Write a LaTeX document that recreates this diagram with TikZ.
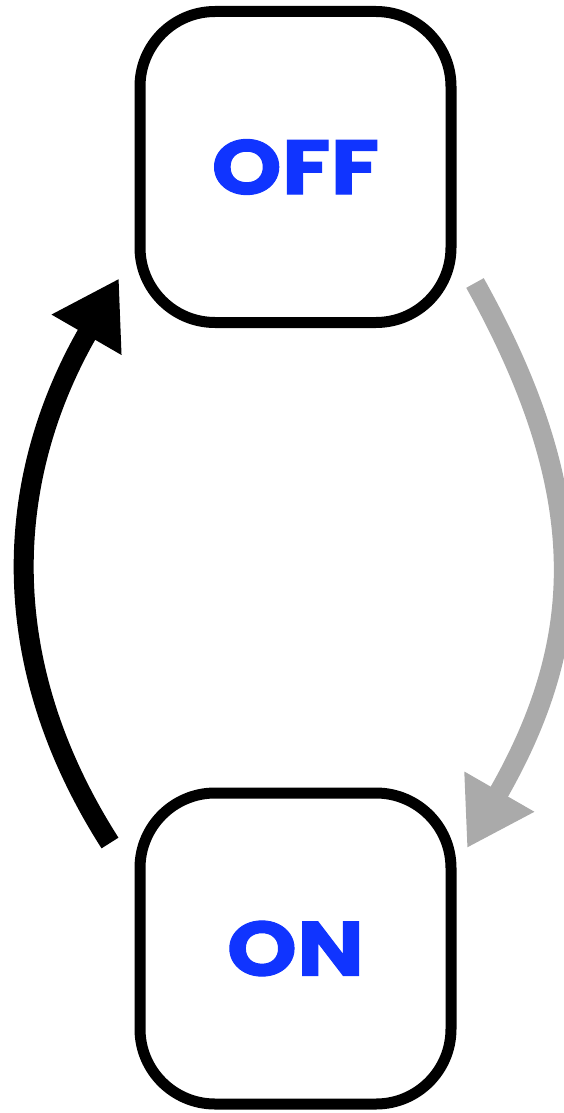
\documentclass[tikz,border=0pt]{standalone}
\usepackage{fontspec}
\setmainfont{Poppins}
\newfontfamily\statefont{Poppins}[FakeStretch=1.16, BoldFeatures={FakeBold=1.3}]
\usetikzlibrary{arrows.meta}

\definecolor{stateblue}{RGB}{16,52,255}
\definecolor{arrowgray}{RGB}{170,170,170}

\tikzset{
    state/.style={draw, line width=11pt, rounded corners=75pt, minimum size=311pt,
        text=stateblue, font=\statefont\fontsize{77}{77}\selectfont\bfseries},
    switch/.style={line width=20pt, -{Triangle[length=65pt, width=76pt]}}
}

\begin{document}
\begin{tikzpicture}[x=1pt, y=-1pt]
        \useasboundingbox (0, 0) rectangle (564, 1113);

        % The two states
        \node[state] (off) at (295.5, 167) {OFF};
        \node[state] (on) at (295.5, 948.5) {ON};

        % Ends of the two arrows
        \coordinate (up start) at ([shift={(-24.5, 55.5)}]on.north west);
        \coordinate (up end) at ([shift={(-15.5, -49.5)}]off.south west);
        \coordinate (down start) at ([shift={(18.5, -45)}]off.south east);
        \coordinate (down end) at ([shift={(10.5, 60.5)}]on.north east);

        % Switching arrows
        \draw[switch, black] (up start) .. controls +(-120, -188) and +(-112, 194) .. (up end);
        \draw[switch, arrowgray] (down start) .. controls +(117.1, 210.6) and +(120, -209) .. (down end);

\end{tikzpicture}
\end{document}
